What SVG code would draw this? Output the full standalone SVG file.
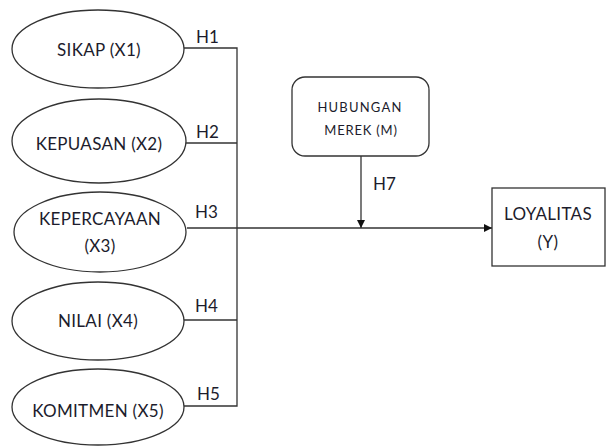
<svg xmlns="http://www.w3.org/2000/svg" width="609" height="446" viewBox="0 0 609 446">
<defs>
<style>
.n{fill:#fff;stroke:#333;stroke-width:1.3}
.t{font-family:Lato,"Liberation Sans",sans-serif;font-size:17px;fill:#1c1c2c;text-anchor:middle;letter-spacing:0.3px}
.s{font-family:Lato,"Liberation Sans",sans-serif;font-size:13px;fill:#1c1c2c;text-anchor:middle}
.h{font-family:Lato,"Liberation Sans",sans-serif;font-size:17px;fill:#1c1c2c}
.c{fill:none;stroke:#333;stroke-width:1.3}
</style>
<marker id="a" viewBox="0 0 10 10" refX="10" refY="5" markerWidth="8" markerHeight="8" markerUnits="userSpaceOnUse" orient="auto"><path d="M0,0L10,5L0,10z" fill="#111"/></marker>
</defs>
<rect width="609" height="446" fill="#fff"/>
<g id="connectors">
<path class="c" d="M184,48H237V406H184"/>
<path class="c" d="M186,143H237"/>
<path class="c" d="M184,320H237"/>
<path class="c" d="M187,228H492" marker-end="url(#a)"/>
<path class="c" d="M361,156V228" marker-end="url(#a)"/>
<text class="h" x="196" y="43">H1</text>
<text class="h" x="196" y="138">H2</text>
<text class="h" x="195" y="218">H3</text>
<text class="h" x="195" y="312">H4</text>
<text class="h" x="197" y="400">H5</text>
<text class="h" x="373" y="190">H7</text>
</g>
<g id="x1"><ellipse class="n" cx="98" cy="49" rx="86" ry="39"/><text class="t" x="99" y="56">SIKAP (X1)</text></g>
<g id="x2"><ellipse class="n" cx="99" cy="141" rx="87" ry="42"/><text class="t" x="99" y="150">KEPUASAN (X2)</text></g>
<g id="x3"><ellipse class="n" cx="100" cy="232" rx="86" ry="40"/><text class="t" x="100" y="225">KEPERCAYAAN</text><text class="t" x="100" y="252">(X3)</text></g>
<g id="x4"><ellipse class="n" cx="98" cy="321" rx="86" ry="39"/><text class="t" x="98" y="327">NILAI (X4)</text></g>
<g id="x5"><ellipse class="n" cx="98" cy="407" rx="86" ry="38"/><text class="t" x="98" y="417">KOMITMEN (X5)</text></g>
<g id="m"><rect class="n" x="292" y="77" width="137" height="79" rx="13"/><text class="s" x="360" y="112" letter-spacing="1.2">HUBUNGAN</text><text class="s" x="361" y="135" letter-spacing="0.8">MEREK (M)</text></g>
<g id="y"><rect class="n" x="492" y="188" width="113" height="78"/><text class="t" x="548" y="220">LOYALITAS</text><text class="t" x="548" y="248">(Y)</text></g>
</svg>
